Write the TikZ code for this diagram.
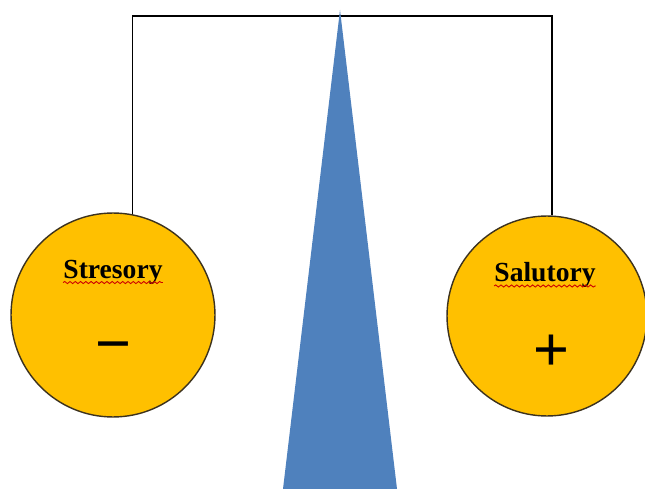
\documentclass[tikz,border=0pt]{standalone}
\usepackage{fontspec}
\setmainfont{Liberation Serif}
\newfontfamily\signfont{Liberation Sans}
\usetikzlibrary{positioning,decorations.pathmorphing}
\definecolor{bowlorange}{RGB}{255,192,0}
\definecolor{pivotblue}{RGB}{79,129,189}
\definecolor{rimdark}{RGB}{60,50,30}
\tikzset{
    pan/.style={
        circle,draw=rimdark,line width=0.8pt,fill=bowlorange,
        minimum size=#1
    },
    pan/.default=4.08cm,
    panlabel/.style={
        font=\fontsize{15.7}{18}\selectfont\bfseries,inner sep=0pt
    },
    sign/.style={
        font=\signfont\fontsize{35}{36}\selectfont,inner sep=0pt
    },
    spellmark/.style={
        draw=red!80!black,line width=0.5pt,
        decorate,decoration={snake,amplitude=0.6pt,segment length=3pt}
    },
    beam/.style={
        draw=black,line width=0.9pt
    }
}

\begin{document}
\begin{tikzpicture}[x=0.02cm,y=-0.02cm]

\useasboundingbox[fill=white](0,0) rectangle (645,489);

\node[pan](stress) at (113,315){};
\node[pan=4.0cm](salut) at (547,316){};

\coordinate (top) at (340,16);
\coordinate (apex) at (340,10);

\draw[beam](stress.79)|-(top)-|(salut.87);

\node[panlabel](stresstxt) at (113,272){Stresory};
\node[panlabel](saluttxt) at (545,275){Salutory};

\draw[spellmark]([yshift=-2.5pt]stresstxt.base west)--([yshift=-2.5pt]stresstxt.base east);
\draw[spellmark]([yshift=-2.5pt]saluttxt.base west)--([yshift=-2.5pt]saluttxt.base east);

\node[sign](minus) at (113,353){−};
\node[sign](plus) at (551,353){+};

\fill[pivotblue](283,489)--(apex)--(397,489)--cycle;

\end{tikzpicture}
\end{document}
